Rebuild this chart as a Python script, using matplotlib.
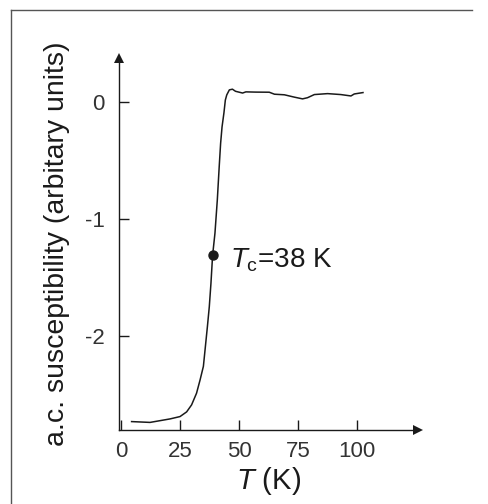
import matplotlib
matplotlib.use("Agg")
import matplotlib.pyplot as plt
from matplotlib.lines import Line2D

plt.rcParams['font.family'] = ['Liberation Sans', 'DejaVu Sans']
plt.rcParams['mathtext.fontset'] = 'custom'
plt.rcParams['mathtext.rm'] = 'Liberation Sans'
plt.rcParams['mathtext.it'] = 'Liberation Sans:italic'

# data
temperature = [4.5, 12.3, 20.8, 25.0, 27.8, 29.9, 32.0, 33.5, 34.9, 35.6, 36.6, 37.4,
               38.1, 38.8, 39.8, 40.8, 41.6, 42.2, 42.8, 43.6, 44.2, 44.8, 45.9, 47.2,
               48.5, 51.5, 52.9, 57.0, 62.8, 65.0, 69.2, 73.4, 76.9, 79.0, 81.9, 87.5,
               93.1, 97.4, 98.8, 102.5]
susceptibility = [-2.733, -2.74, -2.71, -2.69, -2.65, -2.59, -2.49, -2.376, -2.26, -2.12,
                  -1.92, -1.75, -1.55, -1.31, -1.12, -0.835, -0.55, -0.35, -0.21, -0.09,
                  0.02, 0.064, 0.107, 0.113, 0.095, 0.08, 0.09, 0.088, 0.087, 0.07, 0.065,
                  0.045, 0.03, 0.04, 0.067, 0.075, 0.067, 0.055, 0.072, 0.084]
tc_point = (38.8, -1.31)
tc_label = r'$T_{\rm c}$=38 K'
x_ticks = [0, 25, 50, 75, 100]
y_ticks = [0, -1, -2]
x_label = r'$T$ (K)'
y_label = 'a.c. susceptibility (arbitary units)'

W, H = 488, 504
fig = plt.figure(figsize=(W / 100, H / 100), dpi=100)
left, right, bottom, top = 118.7, 418, 430, 58
ax = fig.add_axes([left / W, 1 - bottom / H, (right - left) / W, (bottom - top) / H])
ax.set_xlim(-0.97, 125.8)
ax.set_ylim(-2.805, 0.38)

ink = '#1a1a1a'
ax.plot(temperature, susceptibility, color=ink, lw=1.1)
ax.plot(*tc_point, 'o', color=ink, ms=6.5)
ax.text(46, -1.35, tc_label, fontsize=20, va='center', ha='left', color=ink)

for s in ['top', 'right']:
    ax.spines[s].set_visible(False)
for s in ['left', 'bottom']:
    ax.spines[s].set_color(ink)
    ax.spines[s].set_linewidth(1.0)

# arrow heads
ax.plot(1, 0, marker='>', transform=ax.transAxes, clip_on=False, color=ink, ms=7,
        markeredgewidth=0)
ax.plot(0, 1, marker='^', transform=ax.transAxes, clip_on=False, color=ink, ms=7,
        markeredgewidth=0)

ax.set_xticks(x_ticks)
ax.set_yticks(y_ticks)
ax.set_yticklabels([str(v) if v == 0 else '-' + str(abs(v)) for v in y_ticks])
ax.tick_params(direction='in', length=7, width=1.0, colors=ink, labelsize=16, pad=8)
ax.tick_params(axis='y', pad=10)
for lab in ax.get_xticklabels() + ax.get_yticklabels():
    lab.set_color('#333333')
ax.set_xlabel(x_label, fontsize=21, color=ink, labelpad=2)
ax.set_ylabel(y_label, fontsize=20.5, color=ink, labelpad=11)

# panel border
fig.add_artist(Line2D([10.5 / W, 10.5 / W], [0, 1 - 10 / H], color='#555555', lw=1.0))
fig.add_artist(Line2D([10.5 / W, 472 / W], [1 - 10 / H, 1 - 10 / H], color='#555555', lw=1.0))

fig.savefig('out.png', dpi=100)
